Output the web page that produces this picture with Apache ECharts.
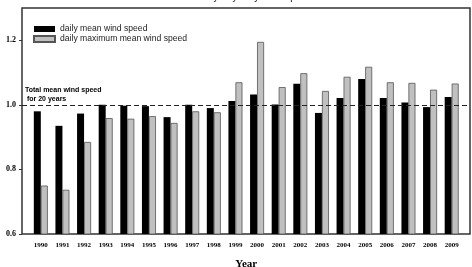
<!DOCTYPE html>
<html>
<head>
<meta charset="utf-8">
<script src="https://cdn.jsdelivr.net/npm/echarts@6/dist/echarts.min.js"></script>
<style>
    html, body { margin: 0; padding: 0; background: #fff; }
    #chart { width: 472px; height: 267px; }
</style>
</head>
<body>
<div id="chart"></div>
<script>
    // data
    const years = ['1990', '1991', '1992', '1993', '1994', '1995', '1996', '1997', '1998', '1999',
        '2000', '2001', '2002', '2003', '2004', '2005', '2006', '2007', '2008', '2009']
    const meanSpeed = [0.980, 0.935, 0.973, 1.000, 0.997, 0.996, 0.962, 1.000, 0.990, 1.012,
        1.032, 1.001, 1.065, 0.975, 1.021, 1.080, 1.021, 1.007, 0.993, 1.024]
    const maxMeanSpeed = [0.750, 0.737, 0.885, 0.959, 0.957, 0.965, 0.944, 0.980, 0.977, 1.070,
        1.195, 1.055, 1.098, 1.043, 1.087, 1.118, 1.070, 1.068, 1.047, 1.066]
    const totalMean = 1.0
    const yTicks = [0.6, 0.8, 1.0, 1.2]
    const yMin = 0.6
    const yMax = 1.3

    const serif = '"Liberation Serif", "Times New Roman", serif'
    const sans = '"Liberation Sans", Arial, sans-serif'

    const chart = echarts.init(document.getElementById('chart'))
    chart.setOption({
        animation: false,
        title: {
            text: 'Variability of yearly wind speed',
            left: 176,
            top: -8,
            padding: 0,
            textStyle: { fontSize: 10, fontWeight: 'normal', color: '#222', fontFamily: sans }
        },
        legend: {
            orient: 'vertical',
            left: 33,
            top: 24.5,
            padding: 0,
            itemWidth: 21,
            itemHeight: 6,
            itemGap: 1,
            icon: 'rect',
            data: ['daily mean wind speed', 'daily maximum mean wind speed'],
            textStyle: { fontSize: 8.6, color: '#222', fontFamily: sans }
        },
        grid: [
            // bars
            { left: 30, right: 9.5, top: 8, bottom: 33, outerBoundsMode: 'none' },
            // frame + y axis
            { left: 22, right: 2, top: 8, bottom: 33, outerBoundsMode: 'none', show: true, borderColor: '#333', borderWidth: 1.5 }
        ],
        xAxis: [
            {
                gridIndex: 0,
                type: 'category',
                data: years,
                axisLine: { show: false },
                axisTick: { alignWithLabel: true, length: 3, lineStyle: { color: '#333' } },
                axisLabel: { fontSize: 7, fontWeight: 'bold', color: '#000', fontFamily: serif, margin: 8 },
                name: 'Year',
                nameLocation: 'middle',
                nameGap: 25,
                nameTextStyle: { fontSize: 11, fontWeight: 'bold', color: '#000', fontFamily: serif }
            },
            { gridIndex: 1, type: 'value', min: 0, max: 1, show: false }
        ],
        yAxis: [
            { gridIndex: 0, type: 'value', min: yMin, max: yMax, show: false },
            {
                gridIndex: 1,
                type: 'value',
                min: yMin,
                max: yMax,
                axisLine: { show: false },
                splitLine: { show: false },
                axisTick: { show: true, length: 3, customValues: yTicks, lineStyle: { color: '#333' } },
                axisLabel: {
                    customValues: yTicks,
                    fontSize: 8, fontWeight: 'bold', color: '#000', fontFamily: serif, margin: 6,
                    formatter: v => v.toFixed(1)
                }
            }
        ],
        series: [
            {
                name: 'daily mean wind speed',
                type: 'bar',
                xAxisIndex: 0,
                yAxisIndex: 0,
                data: meanSpeed,
                barWidth: 7,
                barGap: '0%',
                itemStyle: { color: '#000' }
            },
            {
                name: 'daily maximum mean wind speed',
                type: 'bar',
                xAxisIndex: 0,
                yAxisIndex: 0,
                data: maxMeanSpeed,
                barWidth: 7,
                barGap: '0%',
                itemStyle: { color: '#c0c0c0', borderColor: '#555', borderWidth: 0.8 }
            },
            {
                name: 'total',
                type: 'line',
                xAxisIndex: 1,
                yAxisIndex: 1,
                data: [],
                z: 5,
                markLine: {
                    silent: true,
                    symbol: 'none',
                    lineStyle: { color: '#222', type: [5, 3], width: 1 },
                    label: {
                        position: 'insideStartTop',
                        distance: [3, 1],
                        formatter: 'Total mean wind speed\n for 20 years',
                        fontSize: 7,
                        fontWeight: 'bold',
                        lineHeight: 9,
                        color: '#000',
                        fontFamily: sans
                    },
                    data: [{ yAxis: totalMean }]
                }
            }
        ]
    })
</script>
</body>
</html>
